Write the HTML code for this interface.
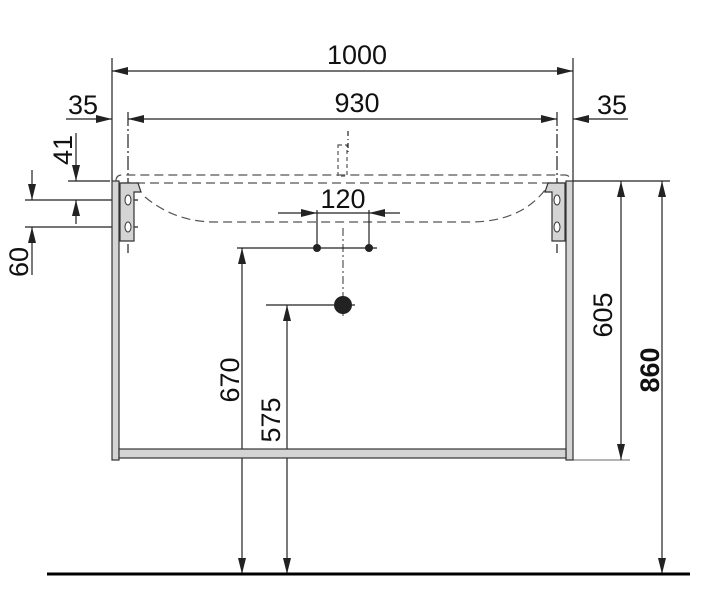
<!DOCTYPE html>
<html><head><meta charset="utf-8"><style>
html,body{margin:0;padding:0;background:#fff;}
svg{display:block;}
text{font-family:"Liberation Sans",Arial,sans-serif;font-size:27px;fill:#111;}
</style></head><body>
<svg width="705" height="603" viewBox="0 0 705 603" xmlns="http://www.w3.org/2000/svg">
<defs>
<marker id="a" viewBox="0 0 16 8" refX="16" refY="4" markerWidth="16" markerHeight="8" markerUnits="userSpaceOnUse" orient="auto-start-reverse"><path d="M0,0 L16,4 L0,8 z" fill="#222"/></marker>
</defs>
<g stroke="#222" stroke-width="1.2" fill="none">
<!-- 1000 -->
<line x1="112" y1="58" x2="112" y2="181"/>
<line x1="573" y1="58" x2="573" y2="181"/>
<line x1="112" y1="71" x2="573" y2="71" marker-start="url(#a)" marker-end="url(#a)"/>
<!-- 930 -->
<line x1="128" y1="119" x2="557" y2="119" marker-start="url(#a)" marker-end="url(#a)"/>
<line x1="66" y1="119" x2="112" y2="119" marker-end="url(#a)"/>
<line x1="628" y1="119" x2="573" y2="119" marker-end="url(#a)"/>
<line x1="128" y1="112" x2="128" y2="253" stroke-dasharray="14,3,2,3"/>
<line x1="557" y1="112" x2="557" y2="253" stroke-dasharray="14,3,2,3"/>
<!-- right heights -->
<line x1="573" y1="181" x2="670" y2="181"/>
<line x1="573" y1="460" x2="630" y2="460" stroke="#888"/>
<line x1="621" y1="181" x2="621" y2="460" marker-start="url(#a)" marker-end="url(#a)"/>
<line x1="662" y1="181" x2="662" y2="574" marker-start="url(#a)" marker-end="url(#a)"/>
<!-- left 41/60 -->
<line x1="68" y1="181" x2="110" y2="181"/>
<line x1="25" y1="200" x2="138" y2="200"/>
<line x1="25" y1="227" x2="138" y2="227"/>
<line x1="76" y1="133" x2="76" y2="181" marker-end="url(#a)"/>
<line x1="76" y1="224" x2="76" y2="200" marker-end="url(#a)"/>
<line x1="32" y1="170" x2="32" y2="200" marker-end="url(#a)"/>
<line x1="32" y1="275" x2="32" y2="227" marker-end="url(#a)"/>
<!-- basin dashed -->
<g stroke="#555" stroke-dasharray="9,5">
<path d="M116,181 Q116,175 122,175 L565,175 Q570,175 570,181"/>
<line x1="122" y1="183" x2="565" y2="183"/>
<path d="M145,197 Q175,222 215,222 L470,222 Q520,222 545,190"/>
<rect x="338" y="145" width="9" height="31" stroke-dasharray="4,3"/>
</g>
<line x1="348" y1="131" x2="348" y2="152" stroke-dasharray="5,3,1,3"/>
<line x1="343" y1="228" x2="343" y2="318" stroke-dasharray="8,3,2,3" stroke="#555"/>
<!-- 120 -->
<line x1="278" y1="213" x2="317" y2="213" marker-end="url(#a)"/>
<line x1="400" y1="213" x2="369" y2="213" marker-end="url(#a)"/>
<line x1="317" y1="213" x2="369" y2="213"/>
<line x1="317" y1="210" x2="317" y2="248"/>
<line x1="369" y1="210" x2="369" y2="248"/>
<line x1="237" y1="248" x2="377" y2="248"/>
<line x1="266" y1="305" x2="355" y2="305"/>
<!-- 670 / 575 -->
<line x1="242" y1="248" x2="242" y2="574" marker-start="url(#a)" marker-end="url(#a)"/>
<line x1="287" y1="305" x2="287" y2="574" marker-start="url(#a)" marker-end="url(#a)"/>
</g>
<circle cx="317" cy="248" r="4" fill="#222"/>
<circle cx="369" cy="248" r="4" fill="#222"/>
<circle cx="343" cy="305" r="9" fill="#222"/>
<!-- cabinet -->
<g stroke="#333" stroke-width="1.2" fill="#d4d4d4">
<rect x="112" y="181" width="7" height="279"/>
<rect x="566" y="181" width="7" height="279"/>
<rect x="119" y="449" width="447" height="9"/>
<path d="M120,183 L138,183 L141,192 L134,192 L134,241 L120,241 Z"/>
<path d="M565,183 L548,183 L545,192 L552,192 L552,241 L565,241 Z"/>
</g>
<g stroke="#333" stroke-width="1" fill="#fff">
<ellipse cx="128" cy="200" rx="3" ry="5"/><ellipse cx="128" cy="227" rx="3" ry="5"/>
<ellipse cx="557" cy="200" rx="3" ry="5"/><ellipse cx="557" cy="227" rx="3" ry="5"/>
</g>
<line x1="47" y1="574" x2="690" y2="574" stroke="#000" stroke-width="3"/>
<!-- text -->
<text x="357" y="64" text-anchor="middle">1000</text>
<text x="357" y="112" text-anchor="middle">930</text>
<text x="83" y="114" text-anchor="middle">35</text>
<text x="612" y="114" text-anchor="middle">35</text>
<text x="343" y="208" text-anchor="middle">120</text>
<text transform="translate(72,150) rotate(-90)" text-anchor="middle">41</text>
<text transform="translate(28,262) rotate(-90)" text-anchor="middle">60</text>
<text transform="translate(239,380) rotate(-90)" text-anchor="middle">670</text>
<text transform="translate(280,420) rotate(-90)" text-anchor="middle">575</text>
<text transform="translate(612,315) rotate(-90)" text-anchor="middle">605</text>
<text transform="translate(659,370) rotate(-90)" text-anchor="middle" font-weight="bold">860</text>
</svg>
</body></html>
